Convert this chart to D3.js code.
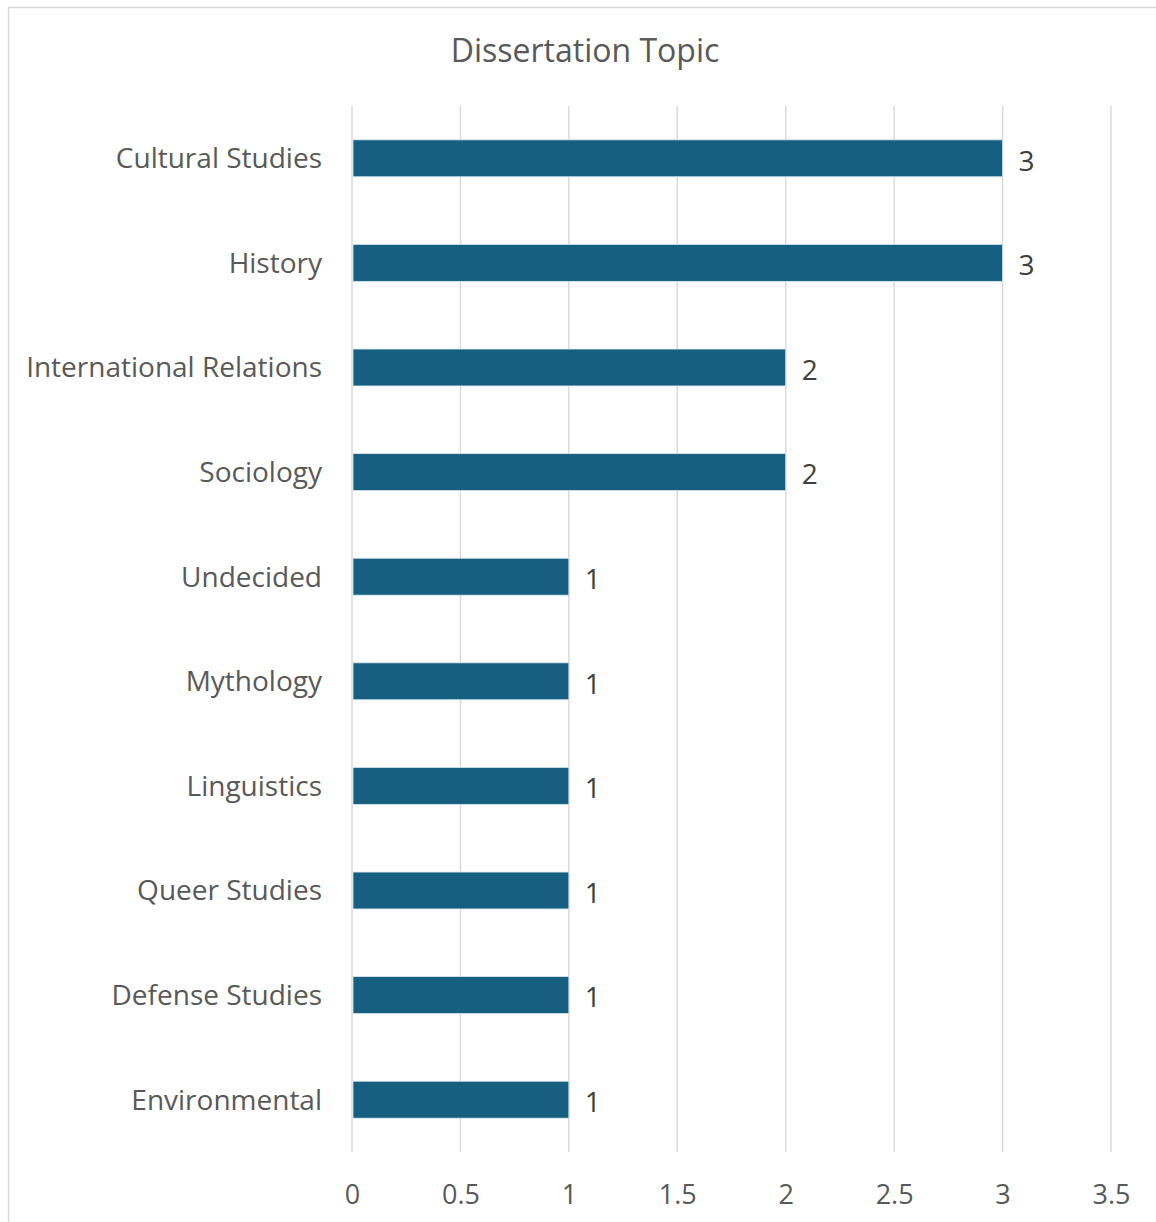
<!DOCTYPE html>
<html lang="en">
<head>
<meta charset="utf-8">
<title>Dissertation Topic</title>
<script src="https://cdn.jsdelivr.net/npm/d3@7"></script>
<style>
  body { margin: 0; background: #fff; }
  text { font-family: "Open Sans", "Noto Sans", sans-serif; }
</style>
</head>
<body>
<script>
// data
var topics = ["Cultural Studies", "History", "International Relations", "Sociology",
  "Undecided", "Mythology", "Linguistics", "Queer Studies", "Defense Studies", "Environmental"];
var counts = [3, 3, 2, 2, 1, 1, 1, 1, 1, 1];
var xTicks = [0, 0.5, 1, 1.5, 2, 2.5, 3, 3.5];

var w = 1156, h = 1222;
var svg = d3.select("body").append("svg").attr("width", w).attr("height", h);

// outer chart border
svg.append("rect")
  .attr("x", 8.5).attr("y", 7.5)
  .attr("width", w + 20).attr("height", h + 20)
  .attr("fill", "white").attr("stroke", "#d9d9d9").attr("stroke-width", 1.5);

var plotLeft = 352, plotRight = 1111, plotTop = 106, plotBottom = 1152;

var x = d3.scaleLinear().domain([0, 3.5]).range([plotLeft, plotRight]);
var y = d3.scaleBand().domain(topics).range([plotTop, plotBottom]).paddingInner(0.647).paddingOuter(0.3235);

// gridlines
svg.append("g").selectAll("line").data(xTicks).enter().append("line")
  .attr("x1", d => x(d)).attr("x2", d => x(d))
  .attr("y1", plotTop).attr("y2", plotBottom)
  .attr("stroke", "#d9d9d9").attr("stroke-width", 1.5);

// x tick labels
var xAxis = d3.axisBottom(x).tickValues(xTicks).tickSize(0).tickPadding(0).tickFormat(d3.format(""));
var gx = svg.append("g").attr("transform", "translate(0,1194)").call(xAxis);
gx.select(".domain").remove();
gx.selectAll("text").attr("font-size", 27).attr("fill", "#595959")
  .style("font-family", "'Open Sans', sans-serif").attr("y", 0).attr("dy", "0.36em");

// y labels
var yAxis = d3.axisLeft(y).tickSize(0).tickPadding(30);
var gy = svg.append("g").attr("transform", "translate(" + plotLeft + ",1)").call(yAxis);
gy.select(".domain").remove();
gy.selectAll("text").attr("font-size", 28).attr("fill", "#595959")
  .style("font-family", "'Open Sans', sans-serif");

// bars
var rows = topics.map((t, i) => ({ topic: t, value: counts[i] }));
svg.append("g").selectAll("rect").data(rows).enter().append("rect")
  .attr("x", x(0) + 1)
  .attr("y", d => y(d.topic))
  .attr("width", d => x(d.value) - x(0) - 1)
  .attr("height", y.bandwidth())
  .attr("fill", "#175f80")
  .attr("stroke", "#d6e6ee").attr("stroke-width", 0.8);

// data labels
svg.append("g").selectAll("text").data(rows).enter().append("text")
  .attr("x", d => x(d.value) + 16)
  .attr("y", d => y(d.topic) + y.bandwidth() / 2 + 1)
  .attr("dy", "0.4em")
  .attr("font-size", 28).attr("fill", "#404040")
  .text(d => d.value);

// title
svg.append("text")
  .attr("x", 585).attr("y", 62)
  .attr("text-anchor", "middle")
  .attr("font-size", 32).attr("fill", "#595959")
  .text("Dissertation Topic");
</script>
</body>
</html>
